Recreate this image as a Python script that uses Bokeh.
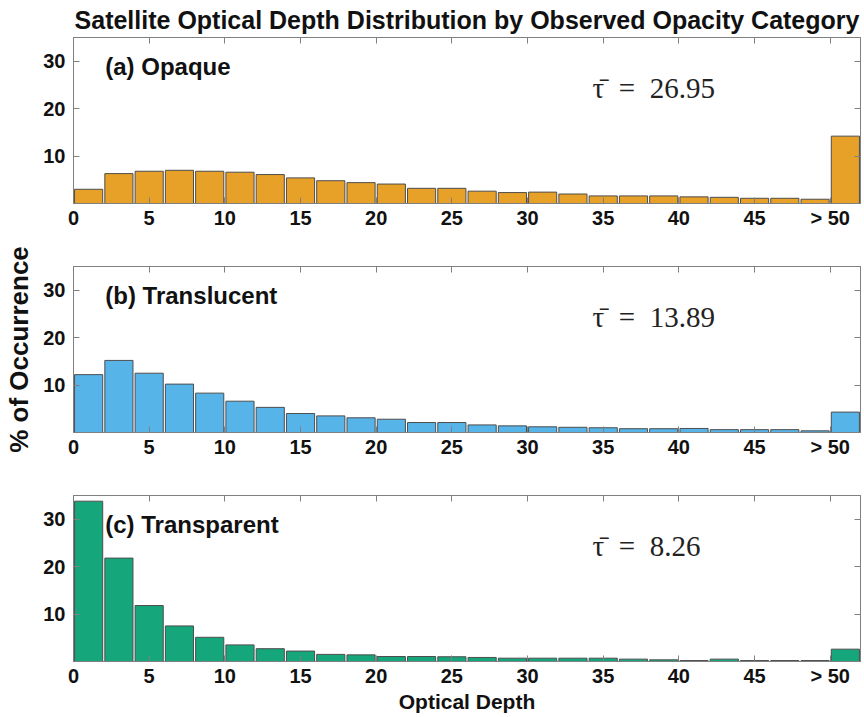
from bokeh.plotting import figure
from bokeh.layouts import column
from bokeh.models import FixedTicker, LinearAxis, Range1d, Label
from bokeh.embed import file_html
from bokeh.resources import INLINE

# bin centres: 0-2, 2-4, ..., 48-50, then ">50"
bin_centers = [1, 3, 5, 7, 9, 11, 13, 15, 17, 19, 21, 23, 25, 27, 29, 31, 33, 35, 37, 39,
               41, 43, 45, 47, 49, 51]
x_ticks = [0, 5, 10, 15, 20, 25, 30, 35, 40, 45, 50]
x_tick_labels = ["0", "5", "10", "15", "20", "25", "30", "35", "40", "45", "> 50"]
y_ticks = [10, 20, 30]

opaque = [3.0, 6.3, 6.8, 7.0, 6.8, 6.6, 6.1, 5.4, 4.8, 4.4, 4.1, 3.2, 3.2, 2.6, 2.3, 2.4,
          2.0, 1.6, 1.6, 1.6, 1.4, 1.3, 1.1, 1.1, 0.9, 14.2]
translucent = [12.2, 15.2, 12.5, 10.2, 8.3, 6.6, 5.3, 4.0, 3.5, 3.1, 2.8, 2.1, 2.1, 1.6, 1.4,
               1.2, 1.1, 1.0, 0.8, 0.8, 0.85, 0.6, 0.6, 0.6, 0.35, 4.3]
transparent = [33.8, 21.8, 11.8, 7.5, 5.1, 3.5, 2.7, 2.2, 1.5, 1.4, 1.05, 1.05, 1.0, 0.85,
               0.7, 0.7, 0.7, 0.7, 0.5, 0.35, 0.2, 0.5, 0.2, 0.2, 0.2, 2.6]

panel_labels = ["(a) Opaque", "(b) Translucent", "(c) Transparent"]
mean_tau = ["26.95", "13.89", "8.26"]
colors = ["#E8A128", "#56B4E9", "#16A67B"]
series = [opaque, translucent, transparent]

TITLE = "Satellite Optical Depth Distribution by Observed Opacity Category"
XLABEL = "Optical Depth"
YLABEL = "% of Occurrence"

SANS = "Liberation Sans, Arial, Helvetica, sans-serif"
SERIF = "Liberation Serif, DejaVu Serif, serif"
GREY = "#808080"
TXT = "#111111"

figs = []
bottom_axes = []
left_axes = []
for i in range(3):
    top_b = [37, 34, 35][i]
    bot_b = [29, 28, 56][i]
    p = figure(frame_width=787, frame_height=166, output_backend="svg", toolbar_location=None,
               x_range=Range1d(0, 52), y_range=Range1d(0, 35),
               min_border_left=73, min_border_right=4, min_border_top=top_b,
               min_border_bottom=bot_b)
    p.grid.visible = False
    p.outline_line_color = GREY
    p.outline_line_width = 1
    p.vbar(x=bin_centers, top=series[i], bottom=0, width=1.86,
           fill_color=colors[i], line_color="#4d4d4d", line_width=1)

    bx = p.xaxis[0]
    ly = p.yaxis[0]
    bottom_axes.append(bx)
    left_axes.append(ly)
    bx.ticker = FixedTicker(ticks=x_ticks)
    bx.major_label_overrides = {t: l for t, l in zip(x_ticks, x_tick_labels)}
    ly.ticker = FixedTicker(ticks=y_ticks)
    for ax in (bx, ly):
        ax.major_tick_in = 6
        ax.major_tick_out = 0
        ax.minor_tick_line_color = None
        ax.axis_line_color = GREY
        ax.major_tick_line_color = GREY
        ax.major_label_text_font = SANS
        ax.major_label_text_font_style = "bold"
        ax.major_label_text_font_size = "20px"
        ax.major_label_text_color = TXT
    bx.major_label_standoff = 3
    ly.major_label_standoff = 8

    # mirrored ticks on top and right (no labels)
    top_ax = LinearAxis(ticker=FixedTicker(ticks=x_ticks), major_tick_in=6, major_tick_out=0,
                        minor_tick_line_color=None, axis_line_color=GREY,
                        major_tick_line_color=GREY, major_label_text_color=None,
                        major_label_text_font_size="1px", major_label_standoff=0)
    right_ax = LinearAxis(ticker=FixedTicker(ticks=y_ticks), major_tick_in=6, major_tick_out=0,
                          minor_tick_line_color=None, axis_line_color=GREY,
                          major_tick_line_color=GREY, major_label_text_color=None,
                          major_label_text_font_size="1px", major_label_standoff=0)
    p.add_layout(top_ax, "above")
    p.add_layout(right_ax, "right")

    p.add_layout(Label(x=2.1, y=28.8, text=panel_labels[i], text_font=SANS,
                       text_font_style="bold", text_font_size="24px",
                       text_baseline="middle", text_color=TXT))
    p.add_layout(Label(x=34.3, y=24.3, text="\u03C4\u0304\u2002=\u2002" + mean_tau[i],
                       text_font=SERIF, text_font_size="29px",
                       text_baseline="middle", text_color="#222222"))
    figs.append(p)

figs[0].title.text = TITLE
figs[0].title.align = "center"
figs[0].title.text_font = SANS
figs[0].title.text_font_style = "bold"
figs[0].title.text_font_size = "25px"
figs[0].title.text_color = TXT
figs[0].title.standoff = 7

left_axes[1].axis_label = YLABEL
left_axes[1].axis_label_text_font = SANS
left_axes[1].axis_label_text_font_style = "bold"
left_axes[1].axis_label_text_font_size = "26px"
left_axes[1].axis_label_text_color = TXT
left_axes[1].axis_label_standoff = 6

bottom_axes[2].axis_label = XLABEL
bottom_axes[2].axis_label_text_font = SANS
bottom_axes[2].axis_label_text_font_style = "bold"
bottom_axes[2].axis_label_text_font_size = "21px"
bottom_axes[2].axis_label_text_color = TXT
bottom_axes[2].axis_label_standoff = 0

layout = column(*figs, spacing=0)
open("out.html", "w").write(file_html(layout, INLINE))
